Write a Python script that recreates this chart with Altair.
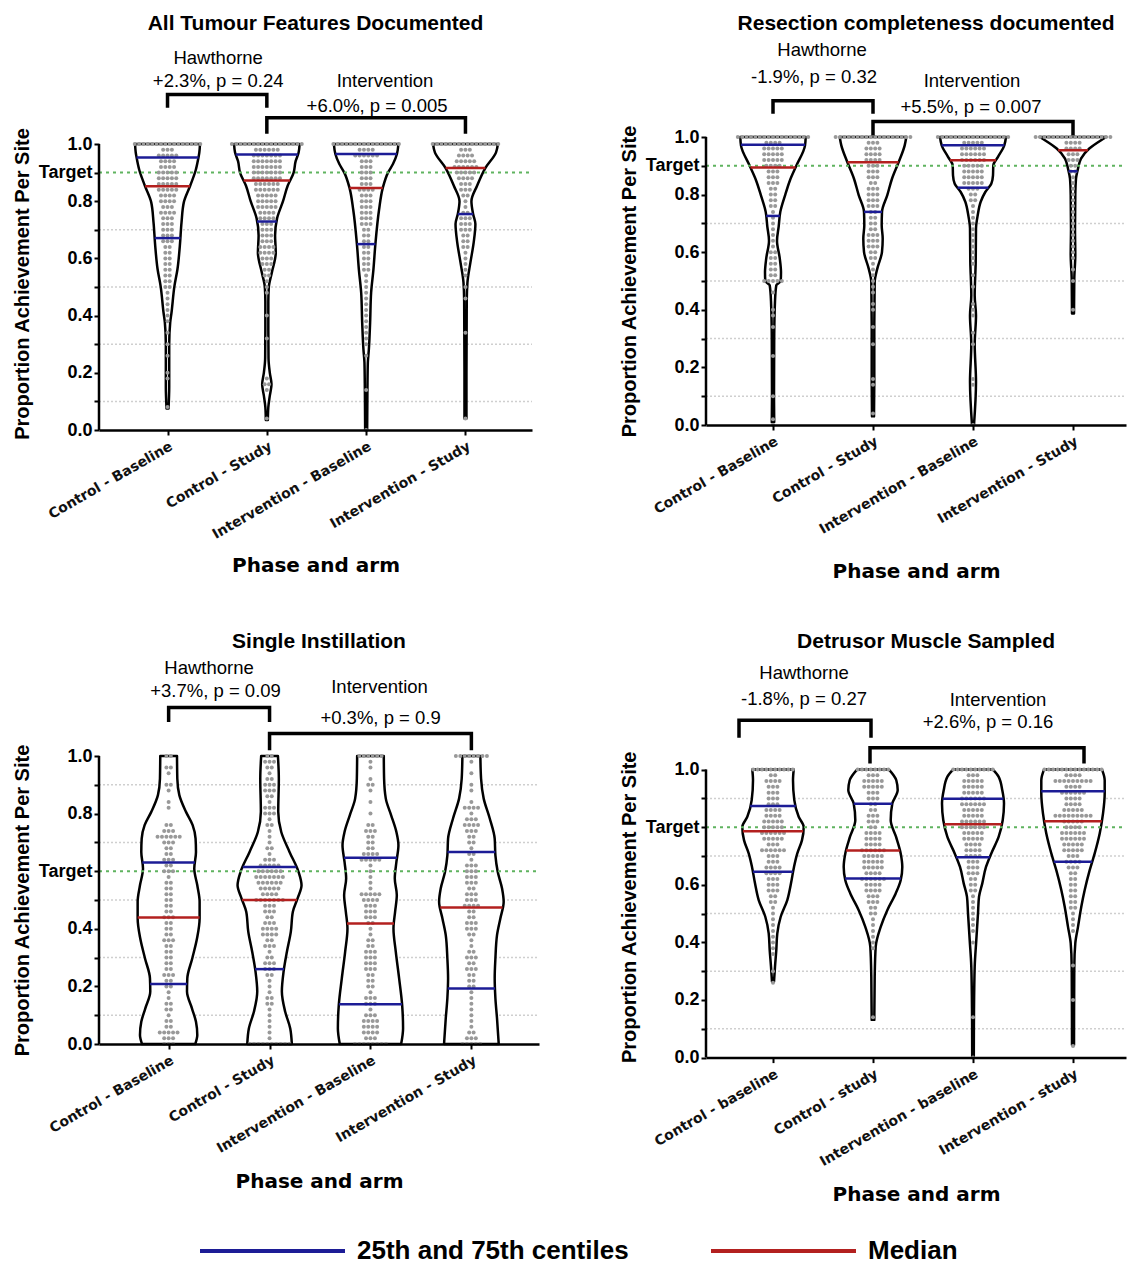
import altair as alt
import pandas as pd
import numpy as np

SANS = "Liberation Sans"
WIDE = "DejaVu Sans"

# ---------------------------------------------------------------- data
panel_titles = ["All Tumour Features Documented", "Resection completeness documented",
                "Single Instillation", "Detrusor Muscle Sampled"]
categories_upper = ["Control - Baseline", "Control - Study",
                    "Intervention - Baseline", "Intervention - Study"]
categories_lower = ["Control - baseline", "Control - study",
                    "Intervention - baseline", "Intervention - study"]
panel_categories = [categories_upper, categories_upper, categories_upper, categories_lower]
targets = [0.9, 0.9, 0.6, 0.8]
y_ticks = [0.0, 0.1, 0.2, 0.3, 0.4, 0.5, 0.6, 0.7, 0.8, 0.9, 1.0]
axis_extent = [0.0, 1.0]
grid_levels = [0.1, 0.3, 0.5, 0.7, 0.9]
legend_labels = ["25th and 75th centiles", "Median"]
legend_colors = ["#1c1c96", "#b3201f"]

# violin outlines: [value, half-width in category units], read top to bottom
tumour_shapes = [
    [[1.0, .327], [.97, .32], [.95, .31], [.91, .285], [.854, .228], [.796, .164], [.726, .141],
     [.644, .124], [.562, .10], [.504, .07], [.41, .04], [.376, .027], [.30, .017], [.15, .017], [.075, .01]],
    [[1.0, .33], [.97, .32], [.94, .29], [.90, .27], [.854, .21], [.80, .163], [.74, .103], [.68, .083],
     [.62, .09], [.55, .05], [.50, .02], [.45, .015], [.35, .015], [.25, .017], [.20, .03], [.16, .047],
     [.12, .03], [.08, .015], [.035, .01]],
    [[1.0, .325], [.965, .31], [.93, .27], [.90, .22], [.846, .167], [.77, .13], [.65, .093], [.56, .073],
     [.48, .05], [.376, .04], [.28, .027], [.236, .017], [.14, .013], [0.0, .01]],
    [[1.0, .327], [.97, .307], [.916, .20], [.854, .117], [.80, .06], [.755, .077], [.72, .10], [.656, .083],
     [.586, .05], [.516, .02], [.45, .013], [.20, .01], [.04, .01]],
]
resection_shapes = [
    [[1.0, .327], [.97, .32], [.90, .233], [.85, .17], [.80, .123], [.74, .073], [.69, .057], [.64, .04],
     [.58, .067], [.53, .08], [.50, .077], [.485, .033], [.43, .02], [.30, .012], [.10, .01], [.01, .012]],
    [[1.0, .333], [.971, .317], [.913, .257], [.855, .19], [.798, .143], [.74, .09], [.694, .087],
     [.647, .097], [.601, .09], [.543, .043], [.497, .017], [.35, .013], [.15, .013], [.03, .01]],
    [[1.0, .33], [.971, .313], [.931, .25], [.902, .203], [.867, .20], [.838, .183], [.809, .123],
     [.775, .077], [.728, .047], [.682, .03], [.566, .027], [.45, .017], [.38, .03], [.28, .017],
     [.15, .03], [0.0, .01]],
    [[1.0, .333], [.988, .277], [.96, .163], [.925, .08], [.89, .05], [.855, .03], [.798, .023],
     [.682, .02], [.59, .023], [.509, .013], [.387, .01]],
]
instillation_shapes = [
    [[1.0, .083], [.921, .086], [.864, .106], [.806, .172], [.76, .238], [.713, .267], [.667, .271],
     [.609, .254], [.551, .284], [.494, .307], [.436, .307], [.366, .281], [.297, .234], [.228, .185],
     [.182, .182], [.124, .231], [.077, .271], [.031, .284], [0.0, .264]],
    [[1.0, .083], [.921, .092], [.806, .086], [.736, .116], [.667, .198], [.598, .287], [.551, .317],
     [.505, .277], [.459, .231], [.39, .211], [.32, .172], [.251, .139], [.182, .122], [.112, .155],
     [.054, .205], [0.0, .221]],
    [[1.0, .132], [.921, .135], [.852, .152], [.794, .205], [.736, .257], [.69, .277], [.632, .257],
     [.575, .241], [.517, .261], [.459, .244], [.401, .228], [.32, .251], [.228, .284], [.135, .314],
     [.054, .323], [0.0, .304]],
    [[1.0, .089], [.921, .096], [.852, .122], [.783, .182], [.713, .231], [.655, .238], [.598, .261],
     [.54, .304], [.494, .32], [.436, .287], [.378, .254], [.297, .238], [.228, .231], [.159, .238],
     [.089, .254], [0.0, .271]],
]
detrusor_shapes = [
    [[1.0, .207], [.963, .20], [.894, .213], [.836, .257], [.801, .307], [.755, .29], [.709, .243],
     [.662, .21], [.605, .18], [.547, .143], [.489, .077], [.431, .043], [.373, .033], [.316, .02], [.264, .01]],
    [[1.0, .16], [.963, .233], [.929, .247], [.882, .193], [.824, .177], [.767, .23], [.709, .277],
     [.662, .293], [.616, .277], [.57, .227], [.512, .143], [.454, .077], [.385, .027], [.281, .017], [.131, .013]],
    [[1.0, .20], [.975, .257], [.928, .293], [.882, .31], [.824, .297], [.767, .257], [.709, .183],
     [.662, .13], [.605, .093], [.558, .06], [.501, .05], [.408, .033], [.316, .017], [.165, .01], [0.0, .008]],
    [[1.0, .29], [.963, .317], [.917, .317], [.847, .30], [.778, .267], [.709, .217], [.651, .167],
     [.582, .117], [.524, .083], [.454, .05], [.397, .023], [.316, .013], [.044, .01]],
]

# dot rows: number of site dots at each level (levels listed in dot_levels)
dot_levels = [1.00, 0.98, 0.96, 0.94, 0.92, 0.90, 0.88, 0.86, 0.84, 0.82,
              0.80, 0.78, 0.76, 0.74, 0.72, 0.70, 0.68, 0.66, 0.64, 0.62,
              0.60, 0.58, 0.56, 0.54, 0.52, 0.50, 0.48, 0.46, 0.44, 0.42,
              0.40, 0.38, 0.36, 0.34, 0.32, 0.30, 0.28, 0.26, 0.24, 0.22,
              0.20, 0.18, 0.16, 0.14, 0.12, 0.10, 0.08, 0.06, 0.04, 0.02,
              0.00]
tumour_counts = [
    [16, 3, 5, 4, 4, 5, 5, 5, 5, 4, 4, 3, 4, 3, 3, 3, 3, 3, 2, 2, 2, 2, 2, 2, 2, 2, 1, 1, 1, 1,
     1, 1, 0, 1, 0, 1, 0, 1, 0, 0, 1, 1, 0, 0, 0, 0, 1, 0, 0, 0, 0],
    [17, 6, 7, 7, 7, 7, 7, 6, 6, 5, 5, 5, 4, 4, 3, 3, 3, 3, 4, 4, 3, 3, 2, 2, 1, 1, 1, 0, 0, 0,
     1, 0, 0, 0, 1, 0, 0, 0, 0, 0, 0, 1, 2, 1, 0, 0, 0, 0, 1, 0, 0],
    [16, 4, 6, 3, 3, 3, 3, 3, 4, 3, 3, 3, 3, 3, 3, 2, 2, 2, 2, 2, 2, 2, 2, 1, 1, 1, 1, 1, 1, 1,
     1, 1, 1, 1, 1, 1, 0, 1, 0, 0, 0, 0, 0, 1, 0, 0, 0, 0, 0, 0, 1],
    [16, 3, 4, 5, 6, 5, 4, 3, 3, 2, 1, 1, 2, 3, 3, 3, 2, 2, 2, 1, 1, 1, 1, 1, 0, 1, 0, 1, 0, 0,
     0, 0, 0, 1, 0, 0, 0, 0, 0, 0, 0, 0, 0, 0, 0, 0, 0, 0, 1, 0, 0],
]
resection_counts = [
    [17, 4, 5, 5, 5, 4, 3, 3, 3, 2, 2, 2, 2, 1, 1, 1, 1, 1, 1, 1, 2, 2, 2, 2, 2, 5, 0, 1, 0, 0,
     1, 1, 0, 1, 0, 0, 0, 0, 1, 0, 0, 0, 0, 0, 0, 1, 0, 0, 0, 1, 1],
    [18, 3, 4, 4, 4, 3, 3, 3, 2, 3, 3, 3, 3, 2, 2, 2, 2, 3, 3, 3, 2, 2, 1, 1, 1, 1, 1, 1, 0, 1,
     1, 0, 0, 1, 0, 0, 1, 0, 0, 0, 0, 0, 1, 1, 0, 0, 0, 0, 1, 0, 0],
    [17, 5, 6, 6, 6, 5, 5, 5, 5, 3, 2, 2, 1, 1, 1, 1, 1, 1, 1, 1, 1, 1, 1, 0, 1, 0, 1, 0, 0, 1,
     1, 1, 0, 0, 1, 0, 1, 0, 0, 0, 0, 0, 1, 1, 0, 0, 0, 0, 0, 0, 1],
    [18, 4, 4, 3, 3, 2, 2, 1, 1, 1, 1, 1, 1, 1, 1, 1, 1, 1, 1, 1, 1, 1, 0, 1, 0, 1, 0, 0, 0, 0,
     1, 0, 0, 0, 0, 0, 0, 0, 0, 0, 0, 0, 0, 0, 0, 0, 0, 0, 0, 0, 0],
]
instillation_counts = [
    [2, 0, 2, 1, 0, 2, 1, 0, 1, 1, 0, 0, 2, 3, 6, 3, 2, 2, 3, 2, 3, 1, 2, 2, 2, 2, 2, 2, 3, 2,
     2, 2, 3, 2, 2, 2, 2, 2, 3, 2, 2, 1, 1, 2, 2, 1, 2, 2, 5, 3, 3],
    [2, 3, 2, 1, 2, 3, 3, 2, 1, 3, 3, 1, 2, 1, 1, 1, 2, 1, 3, 5, 6, 7, 6, 5, 4, 7, 3, 3, 2, 3,
     4, 4, 2, 3, 1, 2, 3, 3, 2, 1, 1, 1, 2, 2, 1, 1, 1, 1, 1, 1, 10],
    [6, 1, 1, 0, 1, 2, 1, 0, 1, 0, 1, 0, 2, 3, 2, 2, 2, 4, 5, 1, 1, 1, 1, 1, 5, 4, 3, 3, 3, 2,
     1, 1, 2, 2, 3, 3, 3, 3, 2, 2, 2, 1, 3, 3, 1, 3, 4, 4, 4, 3, 8],
    [8, 1, 0, 1, 0, 1, 1, 0, 1, 4, 1, 3, 4, 3, 2, 2, 1, 2, 1, 3, 3, 3, 3, 2, 3, 3, 4, 2, 2, 3,
     3, 2, 1, 1, 2, 3, 2, 3, 2, 2, 2, 1, 1, 1, 1, 1, 1, 1, 2, 3, 5],
]
detrusor_counts = [
    [10, 2, 4, 3, 3, 3, 3, 4, 4, 5, 5, 6, 5, 3, 6, 3, 3, 4, 4, 3, 3, 3, 2, 2, 1, 1, 1, 1, 1, 1,
     1, 1, 1, 0, 0, 1, 0, 1, 0, 0, 0, 0, 0, 0, 0, 0, 0, 0, 0, 0, 0],
    [8, 3, 5, 5, 3, 3, 2, 2, 3, 3, 2, 4, 4, 4, 6, 5, 5, 5, 4, 6, 4, 4, 3, 3, 2, 2, 1, 1, 1, 1,
     1, 1, 0, 0, 0, 0, 0, 0, 0, 0, 0, 0, 0, 1, 0, 0, 0, 0, 0, 0, 0],
    [10, 3, 5, 5, 5, 6, 6, 5, 5, 6, 6, 5, 5, 4, 4, 4, 3, 3, 3, 2, 2, 2, 1, 1, 1, 1, 1, 1, 1, 0,
     1, 0, 0, 0, 0, 0, 0, 0, 0, 0, 0, 0, 0, 1, 0, 0, 0, 0, 0, 0, 1],
    [14, 4, 9, 4, 6, 4, 4, 5, 9, 5, 4, 6, 6, 5, 5, 3, 4, 3, 2, 2, 2, 2, 2, 2, 2, 1, 1, 1, 1, 0,
     0, 0, 0, 0, 1, 0, 0, 0, 0, 0, 1, 0, 0, 0, 0, 0, 0, 0, 1, 0, 0],
]

# [25th centile, median, 75th centile] per group (None: hidden under the row of dots at 1.0)
tumour_quartiles = [[0.671, 0.852, 0.953], [0.729, 0.872, 0.963], [0.65, 0.846, 0.965], [0.755, 0.916, None]]
resection_quartiles = [[0.726, 0.894, 0.973], [0.74, 0.912, None], [0.824, 0.919, 0.971], [0.881, 0.954, None]]
instillation_quartiles = [[0.208, 0.439, 0.63], [0.26, 0.50, 0.615], [0.138, 0.418, 0.647], [0.193, 0.474, 0.667]]
detrusor_quartiles = [[0.645, 0.786, 0.874], [0.622, 0.719, 0.881], [0.696, 0.81, 0.899], [0.68, 0.821, 0.925]]

# annotations: (text, x in category units, y in proportion units)
tumour_notes = [("Hawthorne", 1.51, 1.302), ("+2.3%, p = 0.24", 1.51, 1.222),
                ("Intervention", 3.19, 1.222), ("+6.0%, p = 0.005", 3.11, 1.134)]
resection_notes = [("Hawthorne", 1.49, 1.303), ("-1.9%, p = 0.32", 1.41, 1.207),
                   ("Intervention", 2.99, 1.195), ("+5.5%, p = 0.007", 2.98, 1.103)]
instillation_notes = [("Hawthorne", 1.40, 1.305), ("+3.7%, p = 0.09", 1.465, 1.224),
                      ("Intervention", 3.09, 1.239), ("+0.3%, p = 0.9", 3.10, 1.133)]
detrusor_notes = [("Hawthorne", 1.31, 1.335), ("-1.8%, p = 0.27", 1.31, 1.246),
                  ("Intervention", 3.25, 1.243), ("+2.6%, p = 0.16", 3.15, 1.165)]
# brackets: (from, to, top level, leg end level)
tumour_brackets = [(1, 2, 1.173, 1.127), (2, 4, 1.092, 1.036)]
resection_brackets = [(1, 2, 1.126, 1.081), (2, 4, 1.054, 1.005)]
instillation_brackets = [(1, 2, 1.168, 1.118), (2, 4, 1.078, 1.02)]
detrusor_brackets = [(0.66, 1.98, 1.171, 1.111), (1.97, 4.11, 1.076, 1.021)]

panel_shapes = [tumour_shapes, resection_shapes, instillation_shapes, detrusor_shapes]
panel_counts = [tumour_counts, resection_counts, instillation_counts, detrusor_counts]
panel_quartiles = [tumour_quartiles, resection_quartiles, instillation_quartiles, detrusor_quartiles]
panel_notes = [tumour_notes, resection_notes, instillation_notes, detrusor_notes]
panel_brackets = [tumour_brackets, resection_brackets, instillation_brackets, detrusor_brackets]

DOT_STEP = 0.044

color_enc = alt.Color(
    "kind:N",
    scale=alt.Scale(domain=legend_labels, range=legend_colors),
    legend=alt.Legend(orient="none", legendX=99, legendY=1101, direction="horizontal",
                      symbolType="stroke", symbolSize=21025, symbolStrokeWidth=4, clipHeight=26,
                      labelFont=SANS, labelFontSize=26, labelFontWeight="bold", labelColor="black",
                      labelOffset=10, labelLimit=600, columnPadding=80, padding=0, title=None),
)


def make_panel(i, width, height, y_top, x_domain, title_offset, title_dx, x_title_pad):
    cats = panel_categories[i]
    target = targets[i]
    xs = alt.Scale(domain=x_domain, nice=False, zero=False)
    ys = alt.Scale(domain=[0, y_top], nice=False, zero=False)
    names = ",".join("'%s'" % c for c in cats)
    x_axis = alt.Axis(values=[1, 2, 3, 4], labelExpr="[" + names + "][datum.value - 1]",
                      labelAngle=-30, labelAlign="right", labelBaseline="top", labelFont=WIDE,
                      labelFontSize=14, labelFontWeight="bold", labelColor="#111111", labelPadding=4,
                      labelOverlap=False, labelFlush=False, labelLimit=400, title="Phase and arm",
                      titleFont=WIDE, titleFontSize=20, titleFontWeight="bold", titleColor="black",
                      titlePadding=x_title_pad, domainColor="black", domainWidth=2.5,
                      tickColor="black", tickWidth=2, tickSize=5, grid=False, zindex=1)
    y_expr = ("abs(datum.value - %s) < 0.001 ? 'Target' : "
              "(round(datum.value * 10) %% 2 == 0 ? format(datum.value, '.1f') : '')" % target)
    y_axis = alt.Axis(values=y_ticks, labelExpr=y_expr, title="Proportion Achievement Per Site",
                      titleFont=SANS, titleFontSize=20, titleFontWeight="bold", titleColor="black",
                      titlePadding=6, labelFont=SANS, labelFontSize=18, labelFontWeight="bold",
                      labelColor="black", labelPadding=2, labelOverlap=False, labelFlush=False,
                      domain=False, tickColor="black", tickWidth=2, tickSize=5, grid=False, zindex=1)

    def X(f="x"):
        return alt.X(f + ":Q", scale=xs, axis=x_axis, stack=False)

    def Y(f="y"):
        return alt.Y(f + ":Q", scale=ys, axis=y_axis)

    vrows, drows, qrows, brows = [], [], [], []
    for g, (shape, cnt, q) in enumerate(zip(panel_shapes[i], panel_counts[i], panel_quartiles[i]), start=1):
        prof = sorted(shape)
        for v, hw in prof:
            vrows.append({"grp": g, "y": v, "x": g - hw, "x2": g + hw})
        for lvl, n in zip(dot_levels, cnt):
            for k in range(n):
                drows.append({"x": g + (k - (n - 1) / 2) * DOT_STEP, "y": lvl})
        vs = [p[0] for p in prof]
        hs = [p[1] for p in prof]
        for val, kind in zip(q, [legend_labels[0], legend_labels[1], legend_labels[0]]):
            if val is None:
                continue
            hw = float(np.interp(val, vs, hs))
            qrows.append({"x": g - hw, "x2": g + hw, "y": val, "kind": kind})
    for b, (x1, x2, ytop, ybot) in enumerate(panel_brackets[i]):
        for o, (xx, yy) in enumerate([(x1, ybot), (x1, ytop), (x2, ytop), (x2, ybot)]):
            brows.append({"bid": b, "ord": o, "x": xx, "y": yy})
    trows = [{"label": t, "x": x, "y": y} for t, x, y in panel_notes[i]]

    grid = alt.Chart(pd.DataFrame({"y": [v for v in grid_levels if abs(v - target) > 1e-6]})).mark_rule(
        color="#cfcfcf", strokeDash=[2, 2], strokeWidth=1.5).encode(
        y=Y(), x=alt.value(0), x2=alt.value(width))
    violin = alt.Chart(pd.DataFrame(vrows)).mark_area(
        orient="horizontal", interpolate="monotone", fill="white", fillOpacity=1,
        stroke="black", strokeWidth=2.5, strokeJoin="round").encode(
        y=Y(), x=X(), x2="x2:Q", detail="grp:N")
    tgt = alt.Chart(pd.DataFrame({"y": [target]})).mark_rule(
        color="#5fb35f", strokeDash=[3, 4], strokeWidth=2).encode(
        y=Y(), x=alt.value(0), x2=alt.value(width))
    dots = alt.Chart(pd.DataFrame(drows)).mark_circle(color="#999999", size=16, opacity=1).encode(
        x=X(), y=Y())
    quart = alt.Chart(pd.DataFrame(qrows)).mark_rule(strokeWidth=2.5).encode(
        y=Y(), x=X(), x2="x2:Q", color=color_enc)
    brackets = alt.Chart(pd.DataFrame(brows)).mark_line(
        color="black", strokeWidth=3.5, strokeJoin="miter").encode(
        x=X(), y=Y(), detail="bid:N", order="ord:Q")
    notes = alt.Chart(pd.DataFrame(trows)).mark_text(
        font=SANS, fontSize=18.5, color="black", baseline="middle", align="center").encode(
        x=X(), y=Y(), text="label:N")
    y_line = alt.Chart(pd.DataFrame({"y": [axis_extent[0]], "y2": [axis_extent[1]]})).mark_rule(
        color="black", strokeWidth=2.5).encode(y=Y(), y2="y2:Q", x=alt.value(0))

    return alt.layer(grid, violin, tgt, dots, quart, brackets, notes, y_line).properties(
        width=width, height=height,
        title=alt.TitleParams(text=panel_titles[i], font=SANS, fontSize=21, fontWeight="bold",
                              color="black", anchor="middle", frame="group",
                              offset=title_offset, dx=title_dx))


p1 = make_panel(0, 433, 293, 1.0245, [0.31, 4.67], 15, 0, 14)
p2 = make_panel(1, 420, 288, 1.0, [0.33, 4.53], 7, 10, 25)
p3 = make_panel(2, 440, 288, 1.0, [0.31, 4.67], 7, 0, 16)
p4 = make_panel(3, 420, 301.6, 1.0472, [0.33, 4.53], 12, 10, 16)

chart = alt.vconcat(
    alt.hconcat(p1, p2, spacing=86),
    alt.hconcat(p3, p4, spacing=79),
    spacing=49,
).properties(
    padding={"left": 4, "top": 4, "right": 0, "bottom": 0}
).configure_view(stroke=None)

chart.save("out.html", embed_options={"renderer": "svg", "actions": False})
